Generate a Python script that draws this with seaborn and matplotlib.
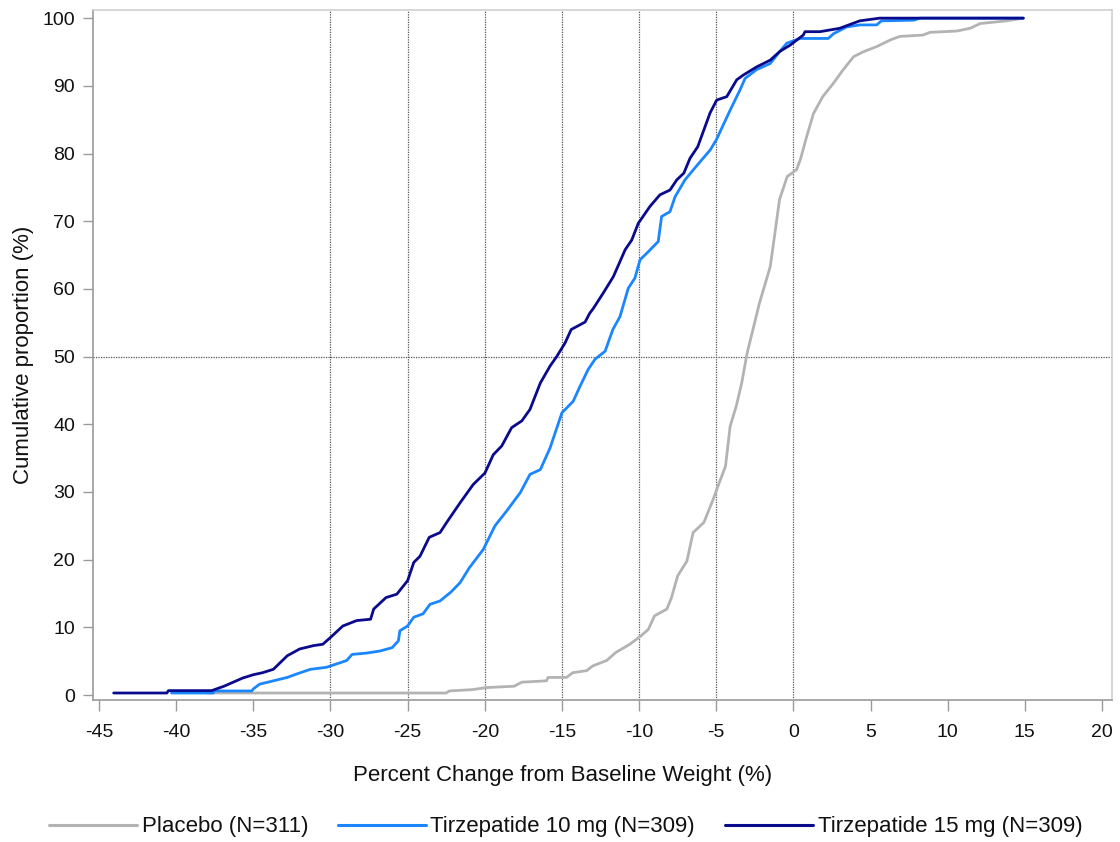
import numpy as np
import pandas as pd
import matplotlib
matplotlib.use("Agg")
import matplotlib.pyplot as plt
from matplotlib.lines import Line2D
import seaborn as sns

# Cumulative distribution of percent change from baseline weight, by arm
placebo_x = [-38.0, -22.5, -22.3, -20.8, -19.9, -18.1, -17.6, -16.0, -15.9, -14.7, -14.3,
             -13.4, -13.0, -12.1, -11.5, -10.6, -9.9, -9.4, -9.0, -8.2, -7.9, -7.5, -6.9,
             -6.5, -5.8, -5.2, -4.8, -4.4, -4.1, -3.7, -3.35, -3.0, -2.2, -1.5, -1.2, -0.9,
             -0.4, 0.2, 0.45, 0.86, 1.3, 1.9, 2.6, 3.2, 3.9, 4.5, 5.4, 6.3, 6.9, 8.4, 8.85,
             10.6, 11.45, 12.1, 13.8, 14.9]
placebo_y = [0.3, 0.3, 0.6, 0.8, 1.1, 1.3, 1.9, 2.1, 2.6, 2.6, 3.3,
             3.6, 4.3, 5.1, 6.3, 7.5, 8.7, 9.7, 11.7, 12.7, 14.4, 17.6, 19.8,
             24.0, 25.5, 28.9, 31.4, 33.8, 39.7, 42.7, 46.1, 50.5, 57.9, 63.3, 68.2, 73.2,
             76.6, 77.6, 79.1, 82.5, 85.9, 88.4, 90.4, 92.3, 94.3, 95.0, 95.8, 96.8, 97.3, 97.5, 97.9,
             98.1, 98.5, 99.2, 99.6, 100.0]

tz10_x = [-40.3, -37.6, -37.5, -35.1, -35.0, -34.6, -33.7, -32.8, -32.2, -31.3, -30.25,
          -29.6, -28.95, -28.6, -27.65, -26.8, -26.0, -25.6, -25.5, -25.0, -24.6, -24.0,
          -23.55, -22.9, -22.2, -21.6, -21.0, -20.1, -19.34, -18.58, -17.7, -17.07, -16.4,
          -15.77, -15.0, -14.27, -13.83, -13.3, -12.86, -12.2, -11.7, -11.24, -10.7, -10.27,
          -9.94, -9.4, -8.76, -8.54, -8.0, -7.67, -7.03, -6.3, -5.4, -5.0, -4.1, -3.46,
          -3.13, -2.38, -1.5, -0.98, -0.43, 0.43, 2.26, 2.6, 3.45, 4.3, 5.4, 5.7, 7.8, 8.2,
          14.9]
tz10_y = [0.3, 0.3, 0.6, 0.6, 0.9, 1.6, 2.1, 2.6, 3.1, 3.8, 4.1,
          4.6, 5.1, 6.0, 6.2, 6.5, 7.0, 8.0, 9.5, 10.2, 11.5, 12.0,
          13.4, 13.9, 15.2, 16.6, 18.8, 21.5, 25.0, 27.2, 29.9, 32.6, 33.3,
          36.5, 41.7, 43.4, 45.6, 48.1, 49.6, 50.8, 54.0, 55.9, 60.1, 61.6,
          64.3, 65.5, 67.0, 70.7, 71.4, 73.6, 76.1, 78.1, 80.5, 82.0, 86.4, 89.4,
          91.1, 92.4, 93.3, 94.8, 96.3, 97.0, 97.0, 97.7, 98.7, 99.0, 99.0, 99.6, 99.7, 100.0,
          100.0]

tz15_x = [-44.05, -40.6, -40.5, -37.7, -36.9, -36.3, -35.7, -35.0, -34.4, -33.7, -32.8,
          -32.0, -31.1, -30.5, -30.0, -29.2, -28.3, -27.4, -27.2, -26.4, -25.7, -25.0,
          -24.6, -24.2, -23.6, -22.9, -22.47, -21.6, -20.75, -19.99, -19.45, -18.9, -18.26,
          -17.6, -17.07, -16.4, -15.77, -15.34, -14.8, -14.4, -13.5, -13.2, -12.97, -12.32,
          -11.67, -10.9, -10.48, -10.05, -9.29, -8.65, -8.0, -7.56, -7.1, -6.7, -6.2, -5.8,
          -5.4, -4.97, -4.32, -3.67, -3.24, -2.38, -1.5, -0.87, -0.22, 0.64, 0.75, 1.72,
          3.0, 4.3, 5.6, 14.9]
tz15_y = [0.3, 0.3, 0.65, 0.65, 1.3, 1.9, 2.5, 3.0, 3.3, 3.8, 5.8,
          6.8, 7.3, 7.5, 8.5, 10.2, 11.0, 11.2, 12.7, 14.4, 14.9, 16.9,
          19.6, 20.5, 23.3, 24.0, 25.5, 28.4, 31.1, 32.8, 35.5, 36.8, 39.5,
          40.5, 42.2, 46.1, 48.6, 50.0, 52.0, 54.0, 55.1, 56.4, 57.1, 59.4,
          61.8, 65.8, 67.2, 69.7, 72.2, 73.9, 74.6, 76.1, 77.1, 79.3, 81.0, 83.5,
          86.0, 87.9, 88.4, 90.9, 91.6, 92.8, 93.8, 95.1, 96.0, 97.5, 98.0, 98.0,
          98.5, 99.6, 100.0, 100.0]

arm_labels = ["Placebo (N=311)", "Tirzepatide 10 mg (N=309)", "Tirzepatide 15 mg (N=309)"]
arm_colors = ["#b3b3b3", "#1a86ff", "#0a0a8c"]

x_ticks = list(range(-45, 21, 5))
y_ticks = list(range(0, 101, 10))
ref_x = [-30, -25, -20, -15, -10, -5, 0]
ref_y = [50]

frames = []
for lab, xs, ys in zip(arm_labels, [placebo_x, tz10_x, tz15_x], [placebo_y, tz10_y, tz15_y]):
    frames.append(pd.DataFrame({"change": xs, "cumprop": ys, "arm": lab}))
df = pd.concat(frames, ignore_index=True)

sns.set_theme(style="white")
plt.rcParams["font.family"] = ["Liberation Sans", "DejaVu Sans"]

fig = plt.figure(figsize=(11.2, 8.42), dpi=100)
ax = fig.add_axes([0.0833, 0.1686, 0.9096, 0.8195])

# dotted reference lines
for xv in ref_x:
    ax.axvline(xv, color="#555555", lw=0.9, ls=(0, (1, 1)), zorder=1)
for yv in ref_y:
    ax.axhline(yv, color="#555555", lw=0.9, ls=(0, (1, 1)), zorder=1)

sns.lineplot(data=df, x="change", y="cumprop", hue="arm", units="arm",
             estimator=None, sort=False, palette=dict(zip(arm_labels, arm_colors)),
             hue_order=arm_labels, lw=2.0, ax=ax, legend=False, zorder=3)

ax.set_xlim(-45.37, 20.65)
ax.set_ylim(-0.74, 101.2)
ax.set_xticks(x_ticks)
ax.set_yticks(y_ticks)
ax.set_xticklabels([str(t) for t in x_ticks])
ax.set_yticklabels([str(t) for t in y_ticks])

for side in ["left", "bottom"]:
    ax.spines[side].set_color("#9a9a9a")
    ax.spines[side].set_linewidth(1.2)
for side in ["top", "right"]:
    ax.spines[side].set_color("#cfcfcf")
    ax.spines[side].set_linewidth(1.2)

ax.tick_params(axis="x", which="major", direction="out", length=8, width=1.0,
               color="#9a9a9a", labelsize=14, pad=9, labelcolor="#111111", bottom=True)
ax.tick_params(axis="y", which="major", direction="out", length=7, width=1.0,
               color="#9a9a9a", labelsize=14, pad=6, labelcolor="#111111", left=True)

ax.set_xlabel("Percent Change from Baseline Weight (%)", fontsize=16, color="#111111")
ax.xaxis.set_label_coords(0.461, -0.0935)
ax.set_ylabel("Cumulative proportion (%)", fontsize=16, color="#111111", labelpad=6)

handles = [Line2D([0], [0], color=c, lw=2.2) for c in arm_colors]
fig.legend(handles, arm_labels, loc="center", bbox_to_anchor=(0.505, 0.018), ncol=3,
           frameon=False, fontsize=16, handlelength=3.96, handletextpad=0.2,
           columnspacing=1.35, labelcolor="#111111")

fig.savefig("out.png", dpi=100)
